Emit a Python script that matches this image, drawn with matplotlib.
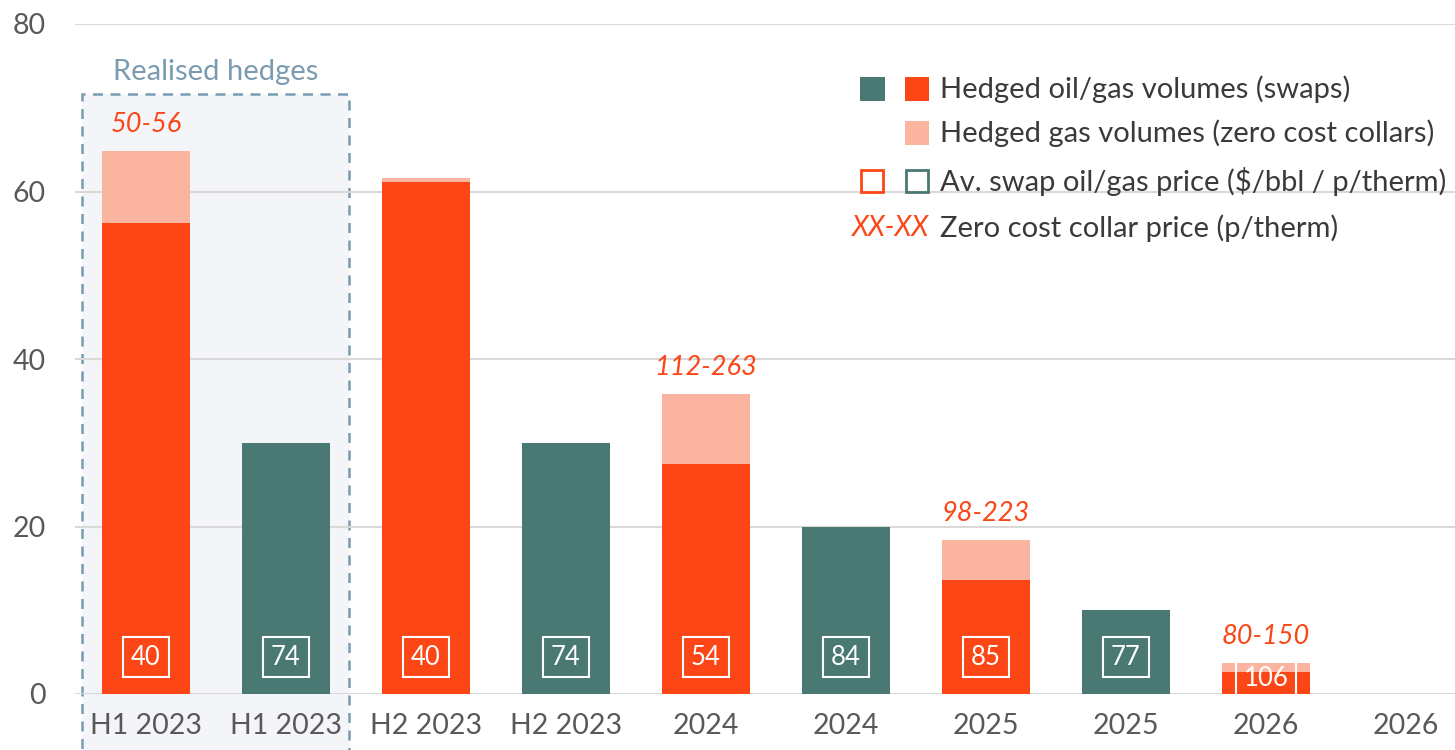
import numpy as np
import matplotlib
matplotlib.use("Agg")
import matplotlib.pyplot as plt
from matplotlib.patches import Rectangle

plt.rcParams['font.family'] = ['Lato', 'DejaVu Sans']

categories = ["H1 2023", "H1 2023", "H2 2023", "H2 2023", "2024", "2024",
              "2025", "2025", "2026", "2026"]
is_gas = [True, False, True, False, True, False, True, False, True, False]
swap_vol = [56.2, 30.0, 61.1, 30.0, 27.5, 20.0, 13.6, 10.0, 2.6, 0.0]
collar_vol = [8.6, 0.0, 0.5, 0.0, 8.3, 0.0, 4.8, 0.0, 1.1, 0.0]
swap_price = ["40", "74", "40", "74", "54", "84", "85", "77", "106", ""]
collar_price = ["50-56", "", "", "", "112-263", "", "98-223", "", "80-150", ""]

RED = "#fc4616"
PINK = "#fbb4a0"
TEAL = "#4a7873"
GREY_TXT = "#595959"
BLUE_GREY = "#7a9bb0"

W, H = 1455, 750
fig = plt.figure(figsize=(W / 100, H / 100), dpi=100)
ax = fig.add_axes([75 / W, 56 / H, 1380 / W, 670 / H])

x = np.arange(len(categories))
cols = [RED if g else TEAL for g in is_gas]
ax.bar(x, swap_vol, width=0.63, color=cols, zorder=3)
ax.bar(x, collar_vol, width=0.63, bottom=swap_vol, color=PINK, zorder=3)

# realised hedges shaded box
ax.add_patch(Rectangle((-0.457, -7.0), 1.907, 78.6, facecolor="#f3f5f8",
                       edgecolor=BLUE_GREY, ls=(0, (4, 3)), lw=1.8,
                       clip_on=False, zorder=0.5))
ax.text(0.5, 74.3, "Realised hedges", color=BLUE_GREY, fontsize=21,
        ha="center", va="center")

for i in range(len(x)):
    if swap_price[i]:
        yl = 4.4 if swap_vol[i] > 6 else 1.8
        ax.text(x[i], yl, swap_price[i], color="white", fontsize=18.5,
                ha="center", va="center", zorder=5,
                bbox=dict(boxstyle="square,pad=0.3", fc="none", ec="white", lw=1.5))
    if collar_price[i]:
        top = swap_vol[i] + collar_vol[i]
        ax.text(x[i], top + 3.2, collar_price[i], color=RED, fontsize=19.5,
                style="italic", ha="center", va="center", zorder=5)

ax.set_xlim(-0.507, 9.35)
ax.set_ylim(0, 80)
ax.set_yticks([0, 20, 40, 60, 80])
ax.set_xticks(x)
ax.set_xticklabels(categories)
ax.tick_params(length=0, labelsize=20.5, labelcolor=GREY_TXT, pad=14)
ax.tick_params(axis="y", pad=21)
ax.grid(axis="y", color="#d9d9d9", lw=1.5, zorder=0)
ax.set_axisbelow(True)
for s in ax.spines.values():
    s.set_visible(False)


# legend drawn by hand in pixel coordinates
def sq(px, py, w, h, fc, ec=None, lw=0):
    fig.patches.append(Rectangle((px / W, 1 - (py + h) / H), w / W, h / H,
                                 transform=fig.transFigure, facecolor=fc,
                                 edgecolor=ec if ec else fc, lw=lw))


sq(860, 77, 25, 24, TEAL)
sq(905, 77, 24, 24, RED)
sq(905, 121, 24, 24, PINK)
sq(861, 170, 22, 22, "none", RED, 2)
sq(906, 170, 22, 22, "none", TEAL, 2)
leg_txt = ["Hedged oil/gas volumes (swaps)",
           "Hedged gas volumes (zero cost collars)",
           "Av. swap oil/gas price ($/bbl / p/therm)",
           "Zero cost collar price (p/therm)"]
for t, py in zip(leg_txt, [89, 133, 181, 228]):
    fig.text(940 / W, 1 - py / H, t, fontsize=21, color="#3a3a3a", va="center")
fig.text(929 / W, 1 - 228 / H, "XX-XX", fontsize=20, color=RED, style="italic",
         va="center", ha="right")

fig.savefig("out.png", dpi=100)
